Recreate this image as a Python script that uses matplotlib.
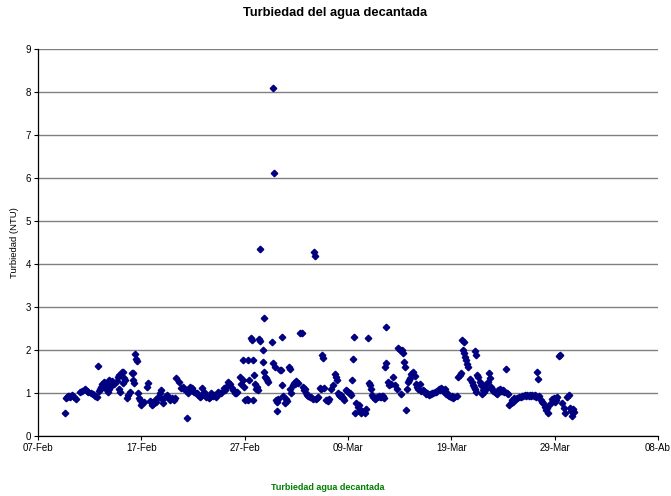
import matplotlib
matplotlib.use("Agg")
import matplotlib.pyplot as plt

# days counted from 07-Feb, turbidity in NTU
dia1 = [2.6, 2.7, 2.8, 2.9, 3.0, 3.1, 3.7, 4.1, 4.5, 4.7, 4.8, 5.3, 5.5, 5.7, 5.8,
        5.9, 6.0, 6.1, 6.2, 6.4, 6.5, 6.7, 6.8, 6.9, 6.9, 7.0, 7.1, 7.2, 7.6, 7.7,
        7.8, 7.8, 7.9, 8.1, 8.2, 8.2, 8.3, 8.6, 8.7, 8.9, 9.1, 9.2, 9.2, 9.3, 9.4,
        9.5, 9.6, 9.7, 9.8, 9.9, 10.0, 10.1, 10.5, 10.6, 10.8, 11.0, 11.1, 11.3, 11.4, 11.6,
        11.8, 11.9, 12.1, 12.3, 12.5, 12.8, 13.0, 13.2, 13.4, 13.6, 13.8, 14.0, 14.3, 14.5, 14.4]
ntu1 = [0.54, 0.88, 0.9, 0.93, 0.92, 0.9, 0.86, 1.03, 1.1, 1.05, 1.03, 0.97, 0.93, 0.91, 1.63,
        1.05, 1.1, 1.15, 1.2, 1.25, 1.12, 1.2, 1.03, 1.1, 1.3, 1.15, 1.23, 1.27, 1.27, 1.38,
        1.1, 1.42, 1.03, 1.5, 1.5, 1.23, 1.35, 0.89, 0.96, 1.03, 1.47, 1.47, 1.3, 1.23, 1.9,
        1.8, 1.74, 1.0, 0.88, 0.84, 0.72, 0.77, 1.15, 1.23, 0.82, 0.72, 0.75, 0.84, 0.8, 0.9,
        1.0, 1.07, 0.77, 0.91, 0.95, 0.84, 0.88, 0.84, 1.36, 1.26, 1.11, 1.15, 1.07, 1.0, 0.42]

dia2 = [14.7, 14.9, 15.1, 15.3, 15.5, 15.7, 15.9, 16.1, 16.3, 16.5, 16.7, 17.0, 17.2, 17.4, 17.7,
        18.0, 18.2, 18.4, 18.6, 18.9, 19.1, 19.3, 19.5, 19.6, 19.8, 19.8, 19.9, 20.0, 20.2, 20.3,
        20.3, 20.4, 20.6, 20.7, 20.8, 20.8, 20.9, 21.0, 21.2, 21.3, 21.4, 21.5, 21.5, 21.8, 21.8,
        21.9, 21.9, 22.0, 22.2, 22.3, 22.6, 22.7, 22.7, 22.8, 22.9, 23.0, 23.1, 23.1, 23.2, 23.4,
        23.5, 23.6, 23.6, 23.7, 23.9, 24.1, 24.3, 24.4, 24.4, 24.5, 24.7, 24.8, 25.0, 25.2, 25.4,
        25.5, 25.6, 25.7, 25.9, 26.1, 26.3]
ntu2 = [1.15, 1.11, 1.03, 1.0, 0.95, 0.91, 1.11, 1.03, 0.91, 0.88, 0.99, 0.95, 0.91, 1.03, 0.99,
        1.11, 1.15, 1.26, 1.2, 1.07, 0.99, 1.03, 1.38, 1.22, 1.77, 1.3, 1.15, 0.84, 0.86, 0.84,
        1.77, 1.3, 2.28, 2.23, 1.77, 0.84, 1.42, 1.22, 1.15, 1.07, 2.25, 2.22, 4.35, 2.0, 1.72,
        2.74, 1.5, 1.38, 1.3, 1.25, 2.19, 8.09, 1.7, 6.12, 1.6, 0.84, 0.57, 0.8, 0.86, 1.53,
        1.53, 1.19, 2.3, 0.93, 0.77, 0.81, 1.6, 1.55, 1.1, 1.0, 1.19, 1.23, 1.27, 1.23, 2.4,
        2.4, 1.15, 1.07, 1.0, 0.92, 0.9]

dia3 = [26.4, 26.6, 26.7, 26.8, 26.9, 27.1, 27.3, 27.4, 27.5, 27.6, 27.7, 27.9, 28.1, 28.2, 28.4,
        28.5, 28.7, 28.8, 28.9, 29.0, 29.2, 29.3, 29.5, 29.6, 29.8, 30.0, 30.2, 30.3, 30.4, 30.5,
        30.6, 30.7, 30.8, 31.0, 31.1, 31.3, 31.4, 31.6, 31.7, 31.9, 32.0, 32.1, 32.2, 32.4, 32.6,
        32.8, 33.0, 33.2, 33.4, 33.5, 33.6, 33.7, 33.7, 33.9, 34.0, 34.2, 34.4, 34.5, 34.7, 34.8,
        35.0, 35.1, 35.2, 35.3, 35.4, 35.5, 35.6, 35.7, 35.8, 35.9, 36.1, 36.3, 36.5, 36.6, 36.8,
        37.0, 37.1, 37.3, 37.5, 37.6, 37.8, 38.0, 38.2, 38.4, 38.6, 38.8, 39.0, 39.2]
ntu3 = [0.9, 0.87, 4.29, 4.19, 0.85, 0.9, 1.11, 1.09, 1.88, 1.81, 1.11, 0.84, 0.82, 0.86, 1.09,
        1.18, 1.45, 1.37, 1.3, 1.0, 0.92, 0.95, 0.88, 0.84, 1.07, 1.03, 1.0, 0.95, 1.3, 1.78,
        2.3, 0.53, 0.76, 0.68, 0.72, 0.53, 0.57, 0.53, 0.62, 2.27, 1.23, 1.18, 1.1, 0.9, 0.86,
        0.9, 0.93, 0.9, 0.93, 0.88, 1.6, 1.7, 2.54, 1.25, 1.18, 1.21, 1.37, 1.18, 1.09, 2.05,
        2.0, 0.97, 2.0, 1.93, 1.71, 1.6, 0.6, 1.1, 1.25, 1.3, 1.45, 1.5, 1.4, 1.2, 1.1,
        1.21, 1.05, 1.07, 0.98, 1.0, 0.95, 0.97, 0.99, 1.03, 1.05, 1.1, 1.12, 1.05]

dia4 = [39.4, 39.5, 39.7, 39.8, 40.0, 40.2, 40.3, 40.5, 40.6, 40.8, 40.9, 41.0, 41.2, 41.1, 41.2,
        41.3, 41.4, 41.5, 41.6, 41.8, 42.0, 42.1, 42.3, 42.4, 42.3, 42.4, 42.5, 42.6, 42.8, 42.9,
        43.0, 43.1, 43.3, 43.4, 43.5, 43.6, 43.7, 43.9, 44.0, 44.2, 44.4, 44.5, 44.7, 44.9, 45.1,
        45.3, 45.4, 45.5, 45.6, 45.8, 45.9, 46.1, 46.3, 46.5, 46.7, 46.9, 47.1, 47.3, 47.5, 47.7,
        47.8, 48.0, 48.2, 48.3, 48.4, 48.5, 48.7, 48.9, 49.1, 49.2, 49.4, 49.5, 49.7, 49.9, 50.1,
        50.2, 50.45, 50.55, 50.7, 50.9, 51.0, 51.2, 51.35, 51.5, 51.6, 51.7, 51.8, 51.9]
ntu4 = [1.1, 0.98, 0.95, 0.93, 0.9, 0.88, 0.9, 0.93, 1.38, 1.42, 1.47, 2.23, 2.19, 2.0, 1.92,
        1.84, 1.77, 1.67, 1.61, 1.33, 1.26, 1.18, 1.1, 1.03, 1.98, 1.88, 1.42, 1.38, 1.26, 1.18,
        0.98, 1.06, 1.18, 1.1, 1.25, 1.46, 1.34, 1.1, 1.05, 1.03, 0.98, 1.08, 1.1, 1.05, 1.03,
        1.55, 1.0, 0.98, 0.72, 0.76, 0.84, 0.88, 0.86, 0.91, 0.9, 0.93, 0.95, 0.95, 0.93, 0.94,
        0.96, 0.93, 0.9, 1.49, 1.33, 0.93, 0.84, 0.76, 0.68, 0.6, 0.53, 0.75, 0.86, 0.88, 0.84,
        0.9, 1.86, 1.88, 0.76, 0.64, 0.53, 0.91, 0.95, 0.65, 0.58, 0.46, 0.62, 0.55]

# readings hidden inside the dense bands
dia5 = [3.3, 3.5, 4.3, 5.1, 6.3, 7.4, 8.4, 10.3, 10.9, 11.2, 12.0, 12.6, 13.3, 14.1, 15.0,
        15.4, 15.8, 16.2, 16.6, 16.9, 17.3, 17.6, 18.1, 18.8, 19.2, 21.1, 22.1, 24.0, 24.9, 25.8,
        26.0, 27.0, 28.0, 29.1, 29.4, 29.9, 31.2, 32.3, 32.7, 33.1, 33.3, 36.0, 36.7, 37.4, 37.9,
        38.1, 38.5, 38.9, 39.1, 39.6, 40.1, 42.2, 43.2, 43.8, 44.3, 44.8, 45.0, 46.0, 46.4, 46.8,
        47.2, 47.6, 48.1, 48.8, 49.3, 50.0]
ntu5 = [0.95, 0.9, 1.05, 1.0, 1.15, 1.2, 1.3, 0.78, 0.78, 0.8, 0.86, 0.9, 0.88, 1.1, 1.05,
        1.0, 0.93, 0.95, 0.9, 0.93, 0.96, 1.0, 1.08, 1.12, 1.0, 1.1, 1.35, 0.86, 1.2, 1.1,
        0.95, 0.88, 0.84, 0.95, 0.9, 1.05, 0.6, 0.95, 0.88, 0.9, 0.92, 1.35, 1.15, 1.05, 0.97,
        1.0, 1.02, 1.08, 1.1, 1.0, 0.92, 1.15, 1.02, 1.15, 1.0, 1.05, 1.07, 0.8, 0.88, 0.92,
        0.93, 0.95, 0.95, 0.8, 0.65, 0.8]

tick_days = [0, 10, 20, 30, 40, 50, 60]
tick_labels = ["07-Feb", "17-Feb", "27-Feb", "09-Mar", "19-Mar", "29-Mar", "08-Ab"]

dias = dia1 + dia2 + dia3 + dia4 + dia5
ntu = ntu1 + ntu2 + ntu3 + ntu4 + ntu5

plt.rcParams['font.family'] = ['Liberation Sans', 'DejaVu Sans']

fig = plt.figure(figsize=(6.71, 4.96), dpi=100)
ax = fig.add_axes([38 / 671, 1 - 436 / 496, 620 / 671, 387 / 496])

ax.plot(dias, ntu, linestyle='none', marker='D', markersize=3.3,
        color='#000080', markeredgecolor='#000080', zorder=3)

ax.set_xlim(0, 60)
ax.set_ylim(0, 9)
ax.set_yticks(range(0, 10))
ax.set_xticks(tick_days)
ax.set_xticklabels(tick_labels)
ax.tick_params(axis='both', labelsize=7, length=3, width=0.8, direction='out', pad=2)
ax.yaxis.grid(True, color='#808080', linewidth=1)
ax.set_axisbelow(True)
for s in ['top', 'right']:
    ax.spines[s].set_visible(False)
for s in ['left', 'bottom']:
    ax.spines[s].set_linewidth(0.9)

ax.set_ylabel("Turbiedad (NTU)", fontsize=6.8, labelpad=5)
fig.text(0.5, 1 - 13 / 496, "Turbiedad del agua decantada", ha='center', va='center',
         fontsize=9.3, fontweight='bold')
fig.text(328 / 671, 1 - 488 / 496, "Turbiedad agua decantada", ha='center', va='center',
         fontsize=6.5, fontweight='bold', color='#008000')

fig.savefig("out.png", dpi=100)
